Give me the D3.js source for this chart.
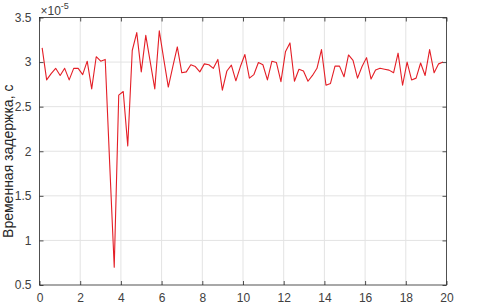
<!DOCTYPE html>
<html><head><meta charset="utf-8">
<script src="https://cdn.jsdelivr.net/npm/d3@7"></script>
<style>body{margin:0;background:#fff}svg{display:block}text{font-family:"Liberation Sans",Arial,sans-serif}</style>
</head><body><svg id="c" width="494" height="306"></svg>
<script>
// values in units of 1e-5 s
const delay = [3.16,2.80,2.87,2.93,2.85,2.93,2.80,2.93,2.93,2.86,
3.01,2.70,3.06,3.01,3.03,1.85,0.70,2.63,2.67,2.06,
3.13,3.33,2.89,3.30,3.00,2.70,3.35,3.03,2.72,2.95,
3.17,2.88,2.89,2.97,2.95,2.89,2.98,2.97,2.93,3.03,
2.685,2.90,2.965,2.79,2.95,3.085,2.82,2.86,2.995,2.97,
2.80,3.01,2.995,2.78,3.115,3.215,2.785,2.92,2.90,2.785,
2.85,2.93,3.14,2.74,2.76,2.955,2.955,2.835,3.08,3.02,
2.82,2.95,3.05,2.81,2.91,2.93,2.92,2.91,2.88,3.10,
2.74,3.00,2.80,2.82,2.99,2.85,3.14,2.88,2.98,3.00];
const tStart = 0.13, tStep = 0.2214;
const times = delay.map((_, i) => tStart + i * tStep);
const xTicks = [0,2,4,6,8,10,12,14,16,18,20];
const yTicks = [0.5,1,1.5,2,2.5,3,3.5];
const yLabel = "Временная задержка, с";

const svg = d3.select("#c");
const L = 39.5, R = 446.5, T = 17.5, B = 285;
const x = d3.scaleLinear().domain([0,20]).range([L,R]);
const y = d3.scaleLinear().domain([0.5,3.5]).range([B,T]);
const axCol = "#262626", gridCol = "#e3e3e3";

const g = svg.append("g");
g.selectAll(".vg").data(xTicks.slice(1,-1)).enter().append("line")
  .attr("x1",d=>x(d)).attr("x2",d=>x(d)).attr("y1",T).attr("y2",B)
  .attr("stroke",gridCol).attr("stroke-width",1);
g.selectAll(".hg").data(yTicks.slice(1,-1)).enter().append("line")
  .attr("x1",L).attr("x2",R).attr("y1",d=>y(d)).attr("y2",d=>y(d))
  .attr("stroke",gridCol).attr("stroke-width",1);

const line = d3.line().x((d,i)=>x(times[i])).y(d=>y(d));
svg.append("path").datum(delay).attr("d",line)
  .attr("fill","none").attr("stroke","#e41e26").attr("stroke-width",1.1)
  .attr("stroke-linejoin","round");

// axes
const fs = 12;
const xa = svg.append("g").attr("transform",`translate(0,${B})`)
  .call(d3.axisBottom(x).tickValues(xTicks).tickSize(-4).tickPadding(8).tickFormat(d3.format("d")));
const xt = svg.append("g").attr("transform",`translate(0,${T})`)
  .call(d3.axisTop(x).tickValues(xTicks).tickSize(-4).tickFormat(""));
const ya = svg.append("g").attr("transform",`translate(${L},0)`)
  .call(d3.axisLeft(y).tickValues(yTicks).tickSize(-4).tickPadding(8).tickFormat(d=>String(d)));
const yr = svg.append("g").attr("transform",`translate(${R},0)`)
  .call(d3.axisRight(y).tickValues(yTicks).tickSize(-4).tickFormat(""));
[xa,xt,ya,yr].forEach(a=>{
  a.selectAll("path").attr("stroke",axCol).attr("stroke-width",0.8);
  a.selectAll("line").attr("stroke",axCol).attr("stroke-width",0.8);
  a.selectAll("text").attr("fill","#404040").style("font-size",fs+"px")
   .style("font-family","'Liberation Sans',Arial,sans-serif");
});
xa.selectAll(".domain").remove(); xt.selectAll(".domain").remove();
ya.selectAll(".domain").remove(); yr.selectAll(".domain").remove();
svg.append("rect").attr("x",L).attr("y",T).attr("width",R-L).attr("height",B-T)
  .attr("fill","none").attr("stroke",axCol).attr("stroke-width",0.8);

// exponent
const ex = svg.append("text").attr("x",L+1).attr("y",15).attr("fill","#404040")
  .style("font-size","12px");
ex.append("tspan").text("×10");
ex.append("tspan").attr("dy",-6).style("font-size","9px").text("-5");

svg.append("text").attr("transform",`translate(13,${(T+B)/2+10}) rotate(-90)`)
  .attr("text-anchor","middle").attr("fill","#262626").style("font-size","14px")
  .text(yLabel);
</script></body></html>
